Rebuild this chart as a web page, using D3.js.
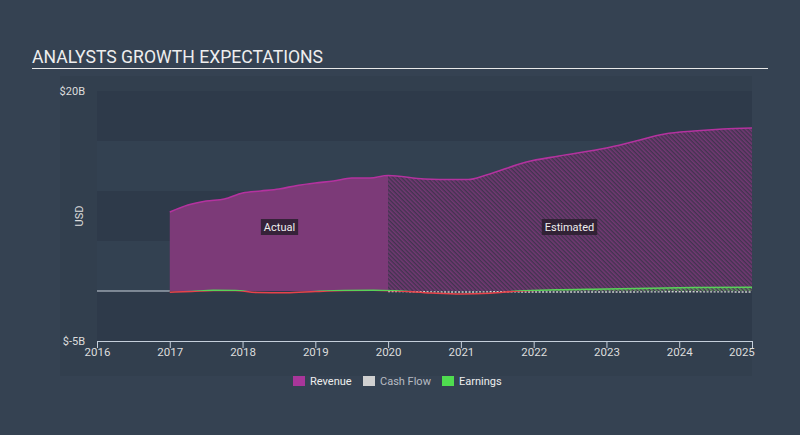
<!DOCTYPE html>
<html><head><meta charset="utf-8">
<script src="https://cdn.jsdelivr.net/npm/d3@7"></script>
<style>
html,body{margin:0;padding:0;background:#354252;}
svg{display:block;font-family:Roboto,"Noto Sans",sans-serif;}
</style></head>
<body>
<svg id="c" width="800" height="435"></svg>
<script>
const title = "ANALYSTS GROWTH EXPECTATIONS";
const xTicks = [2016,2017,2018,2019,2020,2021,2022,2023,2024,2025];
const yTickLabels = [{v:20,t:"$20B"},{v:-5,t:"$-5B"}];
const legendItems = ["Revenue","Cash Flow","Earnings"];
const splitYear = 2020;

const revYears = [2017,2017.25,2017.5,2017.75,2018,2018.25,2018.5,2018.75,2019,2019.25,2019.5,2019.75,2020,
                  2020.5,2020.9,2021.1,2021.35,2021.9,2022.35,2023,2023.35,2023.8,2024.2,2024.6,2025];
const revenue  = [7.9,8.6,9.0,9.2,9.8,10.0,10.2,10.55,10.8,11.0,11.3,11.3,11.55,
                  11.2,11.15,11.15,11.6,12.9,13.5,14.3,14.9,15.7,16.0,16.2,16.3];

const earnYears = [2017,2017.3,2017.6,2017.9,2018.2,2018.6,2019.0,2019.4,2019.8,2020.1,2020.6,2021.0,2021.4,2021.8,2022.3,2023,2023.6,2024.2,2025];
const earnings  = [-0.12,-0.05,0.06,0.05,-0.15,-0.18,-0.05,0.05,0.08,0.02,-0.2,-0.3,-0.22,0.0,0.12,0.2,0.28,0.35,0.38];

const cashYears = [2020,2020.5,2021,2021.5,2022,2023,2024,2025];
const cashFlow  = [-0.05,-0.08,-0.1,-0.08,-0.1,-0.1,-0.08,-0.1];

const svg = d3.select("#c");
const W=800,H=435;
const x = d3.scaleLinear().domain([2016,2025]).range([97,752]);
const y = d3.scaleLinear().domain([-5,20]).range([341,91]);

// backgrounds
svg.append("rect").attr("x",0).attr("y",0).attr("width",W).attr("height",H).attr("fill","#354252");
svg.append("rect").attr("x",60).attr("y",76).attr("width",692).attr("height",300).attr("fill","#323f4e");
for(let v=-5; v<20; v+=5){
  const idx = (v+5)/5;
  svg.append("rect").attr("x",x(2016)).attr("width",x(2025)-x(2016))
    .attr("y",y(v+5)).attr("height",y(v)-y(v+5))
    .attr("fill", idx%2===0 ? "#2e3a4a" : "#334151");
}

// title
svg.append("text").attr("x",32).attr("y",63).text(title)
  .attr("fill","#eeeeee").attr("font-size",18).attr("textLength",291).attr("lengthAdjust","spacingAndGlyphs");
svg.append("line").attr("x1",32).attr("x2",768).attr("y1",68.5).attr("y2",68.5)
  .attr("stroke","#e8e8e8").attr("stroke-width",1);

const defs = svg.append("defs");
const pat = defs.append("pattern").attr("id","hatch").attr("patternUnits","userSpaceOnUse")
  .attr("width",3).attr("height",3).attr("patternTransform","rotate(-45)");
pat.append("rect").attr("width",3).attr("height",3).attr("fill","#41344f");
pat.append("rect").attr("width",1.6).attr("height",3).attr("fill","#733873");
const pat2 = defs.append("pattern").attr("id","hatchG").attr("patternUnits","userSpaceOnUse")
  .attr("width",3).attr("height",3).attr("patternTransform","rotate(-45)");
pat2.append("rect").attr("width",1.5).attr("height",3).attr("fill","#4cc24c");

const revData = revYears.map((d,i)=>({x:d,y:revenue[i]}));
const actual = revData.filter(d=>d.x<=splitYear);
const est = revData.filter(d=>d.x>=splitYear);

const area = d3.area().x(d=>x(d.x)).y0(y(0)).y1(d=>y(d.y)).curve(d3.curveMonotoneX);
const line = d3.line().x(d=>x(d.x)).y(d=>y(d.y)).curve(d3.curveMonotoneX);

svg.append("path").datum(actual).attr("d",area).attr("fill","#7c3a78");
svg.append("path").datum(est).attr("d",area).attr("fill","url(#hatch)");
svg.append("path").datum(revData).attr("d",line).attr("fill","none").attr("stroke","#b4329f").attr("stroke-width",1.6);

svg.append("line").attr("x1",x(2016)).attr("x2",x(2017)).attr("y1",y(0)).attr("y2",y(0))
  .attr("stroke","#c9d2dc").attr("stroke-width",1.2);

const cashData = cashYears.map((d,i)=>({x:d,y:cashFlow[i]}));
svg.append("path").datum(cashData).attr("d",line).attr("fill","none")
  .attr("stroke","#cfcfcf").attr("stroke-width",1.4).attr("stroke-dasharray","2,1.5");

const earnData = earnYears.map((d,i)=>({x:d,y:earnings[i]}));
const estEarn = earnData.filter(d=>d.x>=2021.8);
const earnArea = d3.area().x(d=>x(d.x)).y0(y(0)).y1(d=>y(d.y)).curve(d3.curveMonotoneX);
svg.append("path").datum(estEarn).attr("d",earnArea).attr("fill","url(#hatchG)").attr("opacity",0.7);
const grad = defs.append("linearGradient").attr("id","earnGrad").attr("gradientUnits","userSpaceOnUse")
  .attr("x1",0).attr("x2",0).attr("y1",y(1)).attr("y2",y(-1));
grad.append("stop").attr("offset","0%").attr("stop-color","#58d158");
grad.append("stop").attr("offset","50%").attr("stop-color","#58d158");
grad.append("stop").attr("offset","50%").attr("stop-color","#e8424a");
grad.append("stop").attr("offset","100%").attr("stop-color","#e8424a");
svg.append("path").datum(earnData).attr("d",line).attr("fill","none")
  .attr("stroke","url(#earnGrad)").attr("stroke-width",1.6);

function tag(txt, cx, cy){
  const g = svg.append("g");
  const t = g.append("text").attr("x",cx).attr("y",cy+4).attr("text-anchor","middle")
    .attr("fill","#eeeeee").attr("font-size",11).text(txt);
  const bb = t.node().getBBox();
  g.insert("rect","text").attr("x",bb.x-3).attr("y",cy-8).attr("width",bb.width+6).attr("height",16)
    .attr("fill","#2a1f2e").attr("opacity",0.85);
}
tag("Actual", 279.5, 227);
tag("Estimated", 569.5, 227);

const xAxis = d3.axisBottom(x).tickValues(xTicks).tickFormat(d3.format("d")).tickSize(7).tickSizeOuter(0);
const gx = svg.append("g").attr("transform",`translate(0,${y(-5)})`).call(xAxis);
gx.select(".domain").attr("stroke","#c5cfdb");
gx.selectAll(".tick line").attr("stroke","#c5cfdb");
gx.selectAll(".tick text").attr("fill","#dddddd").attr("font-size",11.5).attr("font-family","Roboto,sans-serif").attr("dy","0.45em");
gx.selectAll(".tick").filter(d=>d===2025).select("text").attr("text-anchor","end").attr("dx","0.2em");

yTickLabels.forEach(d=>{
  svg.append("text").attr("x",85).attr("y",y(d.v)+4).attr("text-anchor","end")
    .attr("fill","#dddddd").attr("font-size",11).text(d.t);
});
svg.append("text").attr("transform","translate(83,216) rotate(-90)").attr("text-anchor","middle")
  .attr("fill","#dddddd").attr("font-size",11).text("USD");

const legColors = ["#a9369a","#d0d0d0","#4fdc4f"];
const legX = [293,363,442];
const legText = ["#eeeeee","#b8bcc2","#eeeeee"];
legendItems.forEach((n,i)=>{
  svg.append("rect").attr("x",legX[i]).attr("y",376).attr("width",12).attr("height",10).attr("fill",legColors[i]);
  svg.append("text").attr("x",legX[i]+17).attr("y",385).attr("fill",legText[i]).attr("font-size",11).text(n);
});
</script>
</body></html>
